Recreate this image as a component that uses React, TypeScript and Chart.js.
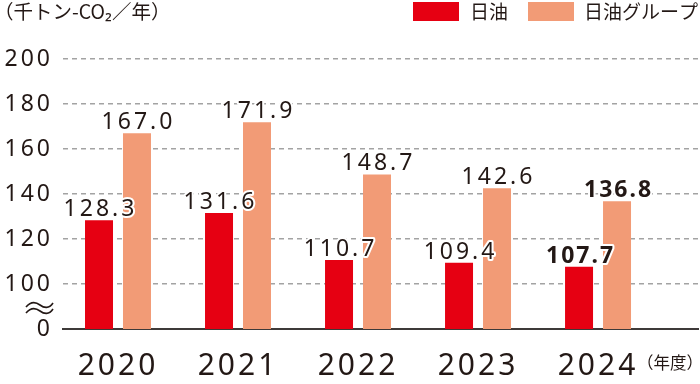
import { useEffect, useRef } from 'react';
import { Chart, registerables } from 'chart.js';

Chart.register(...registerables);

// ---- data ----
const years = ['2020', '2021', '2022', '2023', '2024'];
const nichiyu = [128.3, 131.6, 110.7, 109.4, 107.7];
const nichiyuGroup = [167.0, 171.9, 148.7, 142.6, 136.8];
const seriesLabels = ['日油', '日油グループ'];
const seriesColors = ['#e60012', '#f29b76'];
const boldIndex = 4; // latest year shown in bold
const axisBreakValue = 80; // the axis bottom, labelled "0" (broken axis)
const yMax = 200;
const yStep = 20;
const unitText = '（千トン-CO₂／年）';
const xUnitText = '（年度）';

const TEXT = '#231815';
const NUM_FONT = '"Noto Sans", "DejaVu Sans", sans-serif';
const JP_FONT = '"Noto Sans CJK JP", "Noto Sans", sans-serif';

const decor = {
  id: 'decor',
  beforeDraw(chart: any) {
    chart.ctx.letterSpacing = '3px';
  },
  afterDatasetsDraw(chart: any) {
    const ctx = chart.ctx as CanvasRenderingContext2D;
    ctx.save();
    chart.data.datasets.forEach((ds: any, di: number) => {
      const meta = chart.getDatasetMeta(di);
      meta.data.forEach((bar: any, i: number) => {
        const v = ds.data[i].y as number;
        const bold = i === boldIndex;
        ctx.font = `${bold ? 'bold ' : ''}23px ${NUM_FONT}`;
        (ctx as any).letterSpacing = bold ? '2px' : '3px';
        ctx.textAlign = 'center';
        ctx.textBaseline = 'alphabetic';
        const txt = v.toFixed(1);
        const x = bar.x + 1.5;
        const y = bar.y - 4;
        ctx.lineJoin = 'round';
        ctx.lineWidth = 4;
        ctx.strokeStyle = '#ffffff';
        ctx.strokeText(txt, x, y);
        ctx.fillStyle = TEXT;
        ctx.fillText(txt, x, y);
      });
    });
    ctx.restore();
  },
  afterDraw(chart: any) {
    const ctx = chart.ctx as CanvasRenderingContext2D;
    (ctx as any).letterSpacing = '0px';
    ctx.save();
    // legend
    const items = [
      { box: 413, text: 470 },
      { box: 528, text: 584 },
    ];
    chart.data.datasets.forEach((ds: any, i: number) => {
      const it = items[i];
      ctx.fillStyle = ds.backgroundColor;
      ctx.fillRect(it.box, 2, 46, 19);
      ctx.fillStyle = TEXT;
      ctx.font = `19px ${JP_FONT}`;
      ctx.textAlign = 'left';
      ctx.textBaseline = 'middle';
      ctx.fillText(ds.label, it.text, 11.5);
    });
    // unit
    ctx.font = `19.5px ${JP_FONT}`;
    ctx.textAlign = 'left';
    ctx.textBaseline = 'middle';
    ctx.fillText(unitText, -6, 11.5);
    // x unit
    const xs = chart.scales.x;
    ctx.font = `16.5px ${JP_FONT}`;
    ctx.fillText(xUnitText, xs.getPixelForValue(years.length - 1) + 39, 363);
    // axis break symbol
    ctx.strokeStyle = TEXT;
    ctx.lineWidth = 1.6;
    [305, 311].forEach((y) => {
      ctx.beginPath();
      ctx.moveTo(26, y + 2);
      ctx.bezierCurveTo(31, y - 4, 36, y - 3, 40, y);
      ctx.bezierCurveTo(44, y + 3, 49, y + 4, 53, y - 2);
      ctx.stroke();
    });
    ctx.restore();
  },
};

export default function App() {
  const ref = useRef<HTMLCanvasElement | null>(null);
  useEffect(() => {
    document.body.style.margin = '0';
    const canvas = ref.current!;
    const chart = new Chart(canvas, {
      type: 'bar',
      data: {
        datasets: [
          {
            label: seriesLabels[0],
            data: nichiyu.map((v, i) => ({ x: i, y: v })),
            backgroundColor: seriesColors[0],
          },
          {
            label: seriesLabels[1],
            data: nichiyuGroup.map((v, i) => ({ x: i, y: v })),
            backgroundColor: seriesColors[1],
          },
        ],
      },
      options: {
        animation: false,
        responsive: false,
        events: [],
        layout: { padding: { top: 59, right: 2, left: 0, bottom: 0 } },
        datasets: {
          bar: { categoryPercentage: 0.633, barPercentage: 0.737 },
        },
        plugins: {
          legend: { display: false },
          tooltip: { enabled: false },
        },
        scales: {
          x: {
            type: 'linear',
            offset: false,
            min: -0.4583,
            max: 4.833,
            grid: { display: false, offset: false },
            border: { display: true, color: '#3e3a39', width: 2 },
            afterFit: (s: any) => {
              s.height = 55;
            },
            ticks: {
              stepSize: 1,
              includeBounds: false,
              autoSkip: false,
              maxRotation: 0,
              padding: 11,
              color: TEXT,
              font: { family: NUM_FONT, size: 30 },
              callback: (v: any) => (Number.isInteger(v) && years[v] !== undefined ? years[v] : ''),
            },
          },
          y: {
            min: axisBreakValue,
            max: yMax,
            beginAtZero: false,
            afterFit: (s: any) => {
              s.width = 63;
            },
            border: { display: false, dash: [5, 4] },
            grid: {
              drawTicks: false,
              lineWidth: 1.5,
              color: (c: any) => (c.tick && c.tick.value === axisBreakValue ? 'rgba(0,0,0,0)' : '#a3a3a3'),
            },
            ticks: {
              stepSize: yStep,
              padding: 10,
              color: TEXT,
              font: { family: NUM_FONT, size: 23 },
              callback: (v: any) => (v === axisBreakValue ? '0' : String(v)),
            },
          },
        },
      },
      plugins: [decor],
    } as any);
    return () => chart.destroy();
  }, []);
  return (
    <div style={{ position: 'absolute', left: 0, top: 0, width: 700, height: 384 }}>
      <canvas ref={ref} width={700} height={384} />
    </div>
  );
}
